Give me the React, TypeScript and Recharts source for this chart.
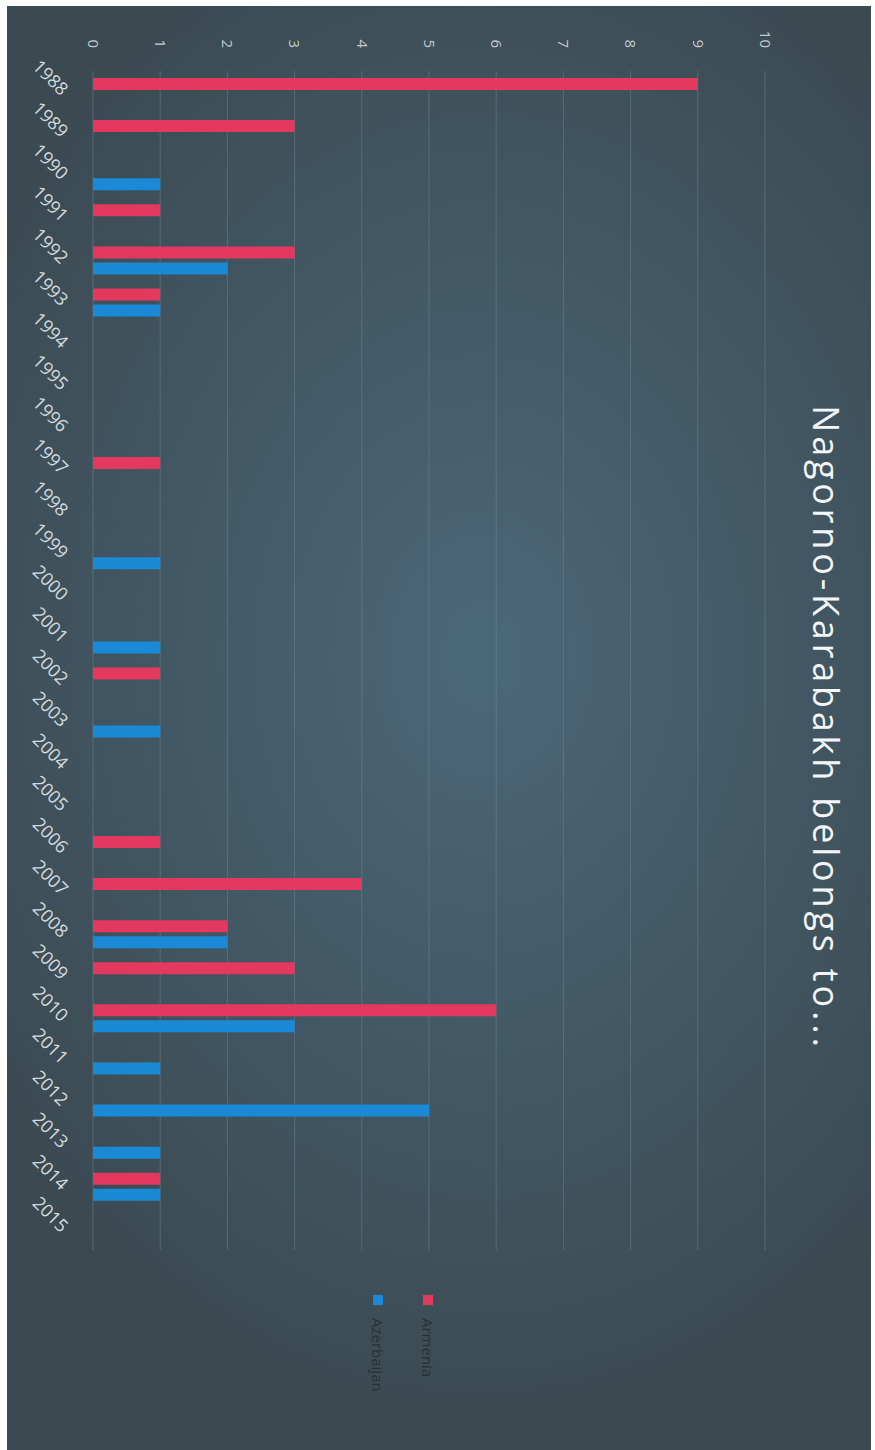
import { Bar, BarChart, CartesianGrid, Legend, XAxis, YAxis } from "recharts";

const years = [
  "1988", "1989", "1990", "1991", "1992", "1993", "1994", "1995", "1996", "1997",
  "1998", "1999", "2000", "2001", "2002", "2003", "2004", "2005", "2006", "2007",
  "2008", "2009", "2010", "2011", "2012", "2013", "2014", "2015",
];
const armenia = [9, 3, 0, 1, 3, 1, 0, 0, 0, 1, 0, 0, 0, 0, 1, 0, 0, 0, 1, 4, 2, 3, 6, 0, 0, 0, 1, 0];
const azerbaijan = [0, 0, 1, 0, 2, 1, 0, 0, 0, 0, 0, 1, 0, 1, 0, 1, 0, 0, 0, 0, 2, 0, 3, 1, 5, 1, 1, 0];
const valueTicks = [0, 1, 2, 3, 4, 5, 6, 7, 8, 9, 10];

const data = years.map((year, i) => ({
  year,
  Armenia: armenia[i],
  Azerbaijan: azerbaijan[i],
}));

// the scanned chart is a plain column chart turned 90deg clockwise,
// so it is drawn upright at W x H and rotated with css
const W = 1444;
const H = 864;
const LEFT = 7;
const TOP = 6;

const RED = "#e4395e";
const BLUE = "#1b8ad6";

function YearTick({ x, y, payload }: any) {
  return (
    <g transform={`translate(${x},${y})`}>
      <text
        transform="rotate(-45)"
        textAnchor="end"
        dy="0.35em"
        fill="#d3dadd"
        fontSize={18}
        fontFamily="'Open Sans', sans-serif"
      >
        {payload.value}
      </text>
    </g>
  );
}

function ValueTick({ x, y, payload }: any) {
  return (
    <text
      x={x}
      y={y}
      dy="0.35em"
      textAnchor="end"
      fill="#c2cbd0"
      fontSize={15}
      fontFamily="'Open Sans', sans-serif"
    >
      {payload.value}
    </text>
  );
}

function LegendBox({ payload }: any) {
  return (
    <div style={{ fontFamily: "'Open Sans', sans-serif" }}>
      {(payload || []).map((entry: any) => (
        <div key={entry.value} style={{ display: "flex", alignItems: "center", height: 50 }}>
          <span style={{ width: 10, height: 10, background: entry.color, marginRight: 13 }} />
          <span style={{ fontSize: 15, color: "#293135" }}>{entry.value}</span>
        </div>
      ))}
    </div>
  );
}

export default function App() {
  return (
    <div
      style={{
        position: "absolute",
        left: 0,
        top: 0,
        width: 875,
        height: 1450,
        background: "#ffffff",
        overflow: "hidden",
      }}
    >
      <div
        style={{
          position: "absolute",
          left: LEFT,
          top: TOP,
          width: H,
          height: W,
          background:
            "radial-gradient(ellipse 70% 55% at 55% 45%, #4b6879 0%, #435a67 45%, #3b4950 100%)",
        }}
      />
      <div
        style={{
          position: "absolute",
          left: 0,
          top: 0,
          width: W,
          height: H,
          transformOrigin: "0 0",
          transform: `translate(${LEFT + H}px, ${TOP}px) rotate(90deg)`,
        }}
      >
        <div
          style={{
            position: "absolute",
            left: 0,
            top: 27,
            width: W,
            textAlign: "center",
            fontFamily: "'Open Sans', sans-serif",
            fontSize: 36,
            lineHeight: "36px",
            letterSpacing: 3.8,
            color: "#f3f6f8",
          }}
        >
          Nagorno-Karabakh belongs to...
        </div>
        <BarChart
          width={W}
          height={H}
          data={data}
          margin={{ top: 106, right: 200, bottom: 56, left: 15 }}
          barSize={12}
          barGap={4}
        >
          <CartesianGrid vertical={false} stroke="#6a8896" strokeOpacity={0.5} />
          <XAxis
            dataKey="year"
            axisLine={false}
            tickLine={false}
            interval={0}
            tickMargin={22}
            tick={<YearTick />}
          />
          <YAxis
            type="number"
            domain={[0, 10]}
            ticks={valueTicks}
            width={50}
            axisLine={false}
            tickLine={false}
            tickMargin={17}
            tick={<ValueTick />}
          />
          <Legend
            layout="vertical"
            align="center"
            verticalAlign="middle"
            wrapperStyle={{ left: 1289, top: 418, width: 150 }}
            content={<LegendBox />}
          />
          <Bar dataKey="Armenia" fill={RED} isAnimationActive={false} />
          <Bar dataKey="Azerbaijan" fill={BLUE} isAnimationActive={false} />
        </BarChart>
      </div>
    </div>
  );
}
